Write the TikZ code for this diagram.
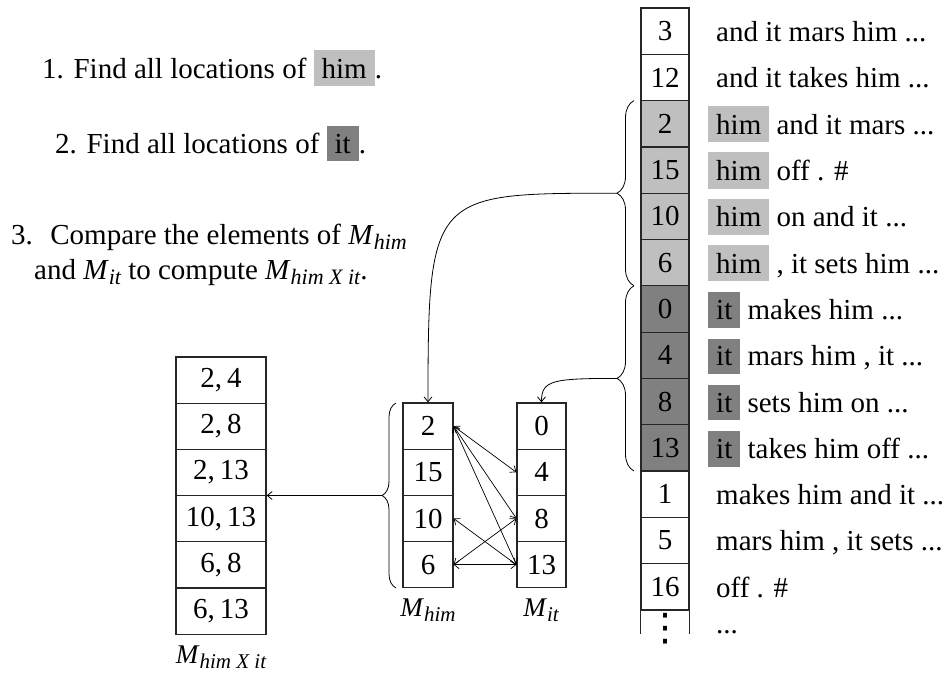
\documentclass[tikz,border=0pt]{standalone}
\usepackage{fontspec}
\setmainfont{Liberation Serif}
\newfontfamily\symfont{DejaVu Sans}
\usetikzlibrary{arrows.meta,decorations.pathreplacing}

\definecolor{himgray}{gray}{0.75}
\definecolor{itgray}{gray}{0.5}
% highlighted word
\newcommand{\hl}[2]{{\setlength{\fboxsep}{8pt}\colorbox{#1}{#2}}}
% italic M with an italic subscript of the given size
\newcommand{\Mx}[2]{\textit{M}\raisebox{-0.2em}{\fontsize{#2}{#2}\selectfont\itshape #1}}

\tikzset{
  cellfont/.style={font=\fontsize{29}{34}\selectfont},
  cell/.style={draw=black!85, line width=1.2pt, inner sep=0pt, cellfont},
  sufcell/.style={cell, minimum width=48pt, minimum height=46.3pt},
  mcell/.style={cell, minimum width=50pt, minimum height=46.2pt},
  pcell/.style={cell, minimum width=90pt, minimum height=46.2pt},
  suftext/.style={anchor=base west, inner sep=0pt, cellfont},
  steptext/.style={anchor=base west, inner sep=0pt, font=\fontsize{29}{34}\selectfont},
  mlabel/.style={anchor=base, inner sep=0pt, font=\fontsize{27}{30}\selectfont},
  barb/.tip={Straight Barb[length=5pt,width=8pt]},
  link/.style={line width=0.8pt, -barb},
  pairlink/.style={line width=0.7pt, barb-barb},
  curly/.style={line width=0.8pt, decorate, decoration={brace, amplitude=#1}},
}

\begin{document}
\begin{tikzpicture}[x=1pt,y=-1pt]
\useasboundingbox (0,0) rectangle (948,675);

% instructions
\node[steptext] (s1) at (42,78) {1. Find all locations of \hl{himgray}{him}.};
\node[steptext] (s2) at (55,153) {2. Find all locations of \hl{itgray}{it}.};
\node[steptext] (s3) at (11,244) {3.\hspace{0.6em}Compare the elements of \Mx{him}{22}};
\node[steptext] (s4) at (34,279) {and \Mx{it}{22} to compute \Mx{him X it}{22}.};

% sorted suffix positions
\foreach \i/\n/\c in {0/3/white,1/12/white,2/2/himgray,3/15/himgray,4/10/himgray,5/6/himgray,
                      6/0/itgray,7/4/itgray,8/8/itgray,9/13/itgray,10/1/white,11/5/white,12/16/white}
  \node[sufcell, fill=\c] (r\i) at (665,{31.15+46.3*\i}) {\n};
\draw[draw=black!85, line width=1.2pt] (r12.south west) -- ++(0,23.5)
      (r12.south east) -- ++(0,23.5);
\node[inner sep=0pt, font=\symfont\fontsize{38}{40}\selectfont] (r13) at (665,629) {⋮};

% suffixes
\node[suftext] (t0) at (716,41.65) {and it mars him ...};
\node[suftext] (t1) at (716,87.95) {and it takes him ...};
\node[suftext] (t2) at (708,134.25) {\hl{himgray}{him} and it mars ...};
\node[suftext] (t3) at (708,180.55) {\hl{himgray}{him} off . \#};
\node[suftext] (t4) at (708,226.85) {\hl{himgray}{him} on and it ...};
\node[suftext] (t5) at (708,273.15) {\hl{himgray}{him} , it sets him ...};
\node[suftext] (t6) at (708,319.45) {\hl{itgray}{it} makes him ...};
\node[suftext] (t7) at (708,365.75) {\hl{itgray}{it} mars him , it ...};
\node[suftext] (t8) at (708,412.05) {\hl{itgray}{it} sets him on ...};
\node[suftext] (t9) at (708,458.35) {\hl{itgray}{it} takes him off ...};
\node[suftext] (t10) at (716,504.65) {makes him and it ...};
\node[suftext] (t11) at (716,550.95) {mars him , it sets ...};
\node[suftext] (t12) at (716,597.25) {off . \#};
\node[suftext] (t13) at (716,633) {...};

% braces grouping the two ranges
\draw[curly=17pt] (634,285.8) -- (634,100.6);
\coordinate (himtip) at (617,193.2);
\draw[curly=17pt] (634,471) -- (634,285.8);
\coordinate (ittip) at (617,378.4);

% M_him and M_it
\foreach \i/\n in {1/2,2/15,3/10,4/6}
  \node[mcell] (hm\i) at (428,{403+46.2*(\i-0.5)}) {\n};
\foreach \i/\n in {1/0,2/4,3/8,4/13}
  \node[mcell, minimum width=49pt] (it\i) at (541.5,{403+46.2*(\i-0.5)}) {\n};
\node[mlabel] (lhm) at (428,616) {\Mx{him}{21}};
\node[mlabel] (lit) at (541,616) {\Mx{it}{21}};

\draw[link] (himtip) .. controls +(-185,0) and +(0,-210) .. (hm1.north);
\draw[link] (ittip) .. controls +(-65,0) and +(0,-22) .. (it1.north);

% matching pairs
\draw[pairlink] (hm1.east) -- (it2.west);
\draw[pairlink] (hm1.east) -- (it3.west);
\draw[pairlink] (hm1.east) -- (it4.west);
\draw[pairlink] (hm3.east) -- (it4.west);
\draw[pairlink] (hm4.east) -- (it3.west);
\draw[pairlink] (hm4.east) -- (it4.west);

% M_him X it
\node[pcell] (hx1) at (221,380.1) {2,\,4};
\node[pcell] (hx2) at (221,426.3) {2,\,8};
\node[pcell] (hx3) at (221,472.5) {2,\,13};
\node[pcell] (hx4) at (221,518.7) {10,\,13};
\node[pcell] (hx5) at (221,564.9) {6,\,8};
\node[pcell] (hx6) at (221,611.1) {6,\,13};
\node[mlabel] (lhx) at (221,663) {\Mx{him X it}{21}};

\draw[curly=14pt] (396,588) -- (396,403);
\coordinate (pairtip) at (382,495.5);
\draw[link] (pairtip) -- (pairtip -| hx3.east);
\end{tikzpicture}
\end{document}
